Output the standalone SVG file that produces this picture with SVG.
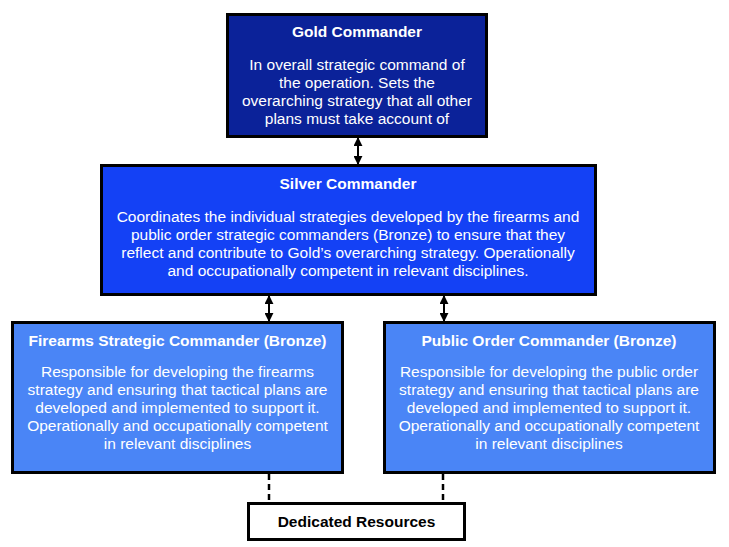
<svg xmlns="http://www.w3.org/2000/svg" width="729" height="547" viewBox="0 0 729 547">
<style>
.box{stroke:#000;stroke-width:3}
.t{font-family:"Liberation Sans",Arial,sans-serif;font-size:15.5px;fill:#fff;text-anchor:middle}
.b{font-weight:bold}
.k{fill:#000}
.c{stroke:#000;stroke-width:2;fill:none}
.d{stroke:#000;stroke-width:2.5;fill:none;stroke-dasharray:6,4}
</style>
<defs>
<marker id="ah" viewBox="0 0 10 10" refX="9" refY="5" markerWidth="4.5" markerHeight="4.5" orient="auto-start-reverse" markerUnits="strokeWidth">
<path d="M0,0 L10,5 L0,10 z" fill="#000"/>
</marker>
</defs>
<rect width="729" height="547" fill="#fff"/>
<g id="connectors">
<line class="c" x1="358" y1="138" x2="358" y2="164" marker-start="url(#ah)" marker-end="url(#ah)"/>
<line class="c" x1="269" y1="296" x2="269" y2="321" marker-start="url(#ah)" marker-end="url(#ah)"/>
<line class="c" x1="444" y1="296" x2="444" y2="321" marker-start="url(#ah)" marker-end="url(#ah)"/>
<line class="d" x1="269" y1="474" x2="269" y2="503"/>
<line class="d" x1="443" y1="474" x2="443" y2="503"/>
</g>
<g id="gold">
<rect class="box" x="227.5" y="14.5" width="259" height="122" fill="#0b2299"/>
<text class="t b" x="357" y="37">Gold Commander</text>
<text class="t" x="357" y="70">In overall strategic command of</text>
<text class="t" x="357" y="88">the operation. Sets the</text>
<text class="t" x="357" y="106">overarching strategy that all other</text>
<text class="t" x="357" y="124">plans must take account of</text>
</g>
<g id="silver">
<rect class="box" x="101.5" y="165.5" width="494" height="129" fill="#1441f5"/>
<text class="t b" x="348" y="189">Silver Commander</text>
<text class="t" x="348" y="222">Coordinates the individual strategies developed by the firearms and</text>
<text class="t" x="348" y="240">public order strategic commanders (Bronze) to ensure that they</text>
<text class="t" x="348" y="258">reflect and contribute to Gold’s overarching strategy. Operationally</text>
<text class="t" x="348" y="276">and occupationally competent in relevant disciplines.</text>
</g>
<g id="firearms">
<rect class="box" x="12.5" y="322.5" width="330" height="150" fill="#4a85f6"/>
<text class="t b" x="177.5" y="346">Firearms Strategic Commander (Bronze)</text>
<text class="t" x="177.5" y="377">Responsible for developing the firearms</text>
<text class="t" x="177.5" y="395">strategy and ensuring that tactical plans are</text>
<text class="t" x="177.5" y="413">developed and implemented to support it.</text>
<text class="t" x="177.5" y="431">Operationally and occupationally competent</text>
<text class="t" x="177.5" y="449">in relevant disciplines</text>
</g>
<g id="publicorder">
<rect class="box" x="384.5" y="322.5" width="330" height="150" fill="#4a85f6"/>
<text class="t b" x="549" y="346">Public Order Commander (Bronze)</text>
<text class="t" x="549" y="377">Responsible for developing the public order</text>
<text class="t" x="549" y="395">strategy and ensuring that tactical plans are</text>
<text class="t" x="549" y="413">developed and implemented to support it.</text>
<text class="t" x="549" y="431">Operationally and occupationally competent</text>
<text class="t" x="549" y="449">in relevant disciplines</text>
</g>
<g id="resources">
<rect class="box" x="248.5" y="503.5" width="216" height="36" fill="#fff"/>
<text class="t b k" x="356.5" y="527">Dedicated Resources</text>
</g>
</svg>
